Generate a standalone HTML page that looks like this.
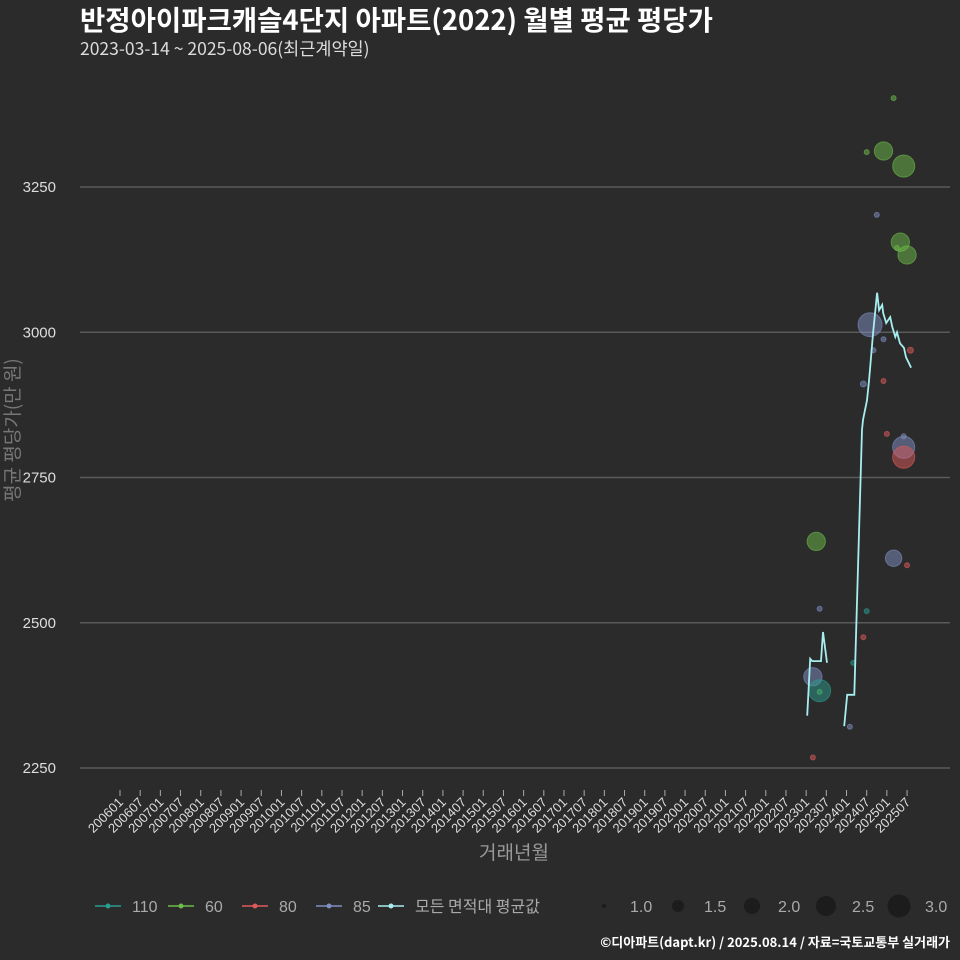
<!DOCTYPE html>
<html><head><meta charset="utf-8"><style>
body{margin:0;background:#2b2b2b;}
svg{display:block;font-family:"Liberation Sans","Noto Sans CJK KR",sans-serif;}
.kr{font-family:"Noto Sans CJK KR",sans-serif;}
</style></head><body>
<svg id="chart" width="960" height="960" viewBox="0 0 960 960">
<rect width="960" height="960" fill="#2b2b2b"/>
<text class="kr" x="80" y="30" fill="#fff" font-size="27.5" font-weight="bold">반정아이파크캐슬4단지 아파트(2022) 월별 평균 평당가</text>
<text class="kr" x="80" y="55" fill="#ddd" font-size="17.5">2023-03-14 ~ 2025-08-06(최근계약일)</text>
<g id="grid"></g>
<g id="yticks"></g>
<g id="xticks"></g>
<g id="bubbles"></g>
<g id="line"></g>
<text class="kr" x="514" y="859" fill="#999" font-size="19" text-anchor="middle">거래년월</text>
<text class="kr" style="font-family:'Noto Sans CJK KR',sans-serif" transform="translate(19,430) rotate(-90)" fill="#777" font-size="19" text-anchor="middle">평균 평당가(만 원)</text>
<g id="legend"></g>
<text class="kr" x="950" y="947" fill="#fff" font-size="13" font-weight="bold" text-anchor="end">©디아파트(dapt.kr) / 2025.08.14 / 자료=국토교통부 실거래가</text>
</svg>
<script>
const yTicks=[2250,2500,2750,3000,3250];
const xTickLabels=[];for(let y=2006;y<=2025;y++){xTickLabels.push(y+"01");xTickLabels.push(y+"07");}
const lineDates=["2023-01-10","2023-02-07","2023-02-25","2023-05-13","2023-06-01","2023-07-07",null,"2023-12-10","2024-01-07","2024-03-10","2024-05-19","2024-05-28","2024-07-04","2024-07-22","2024-08-28","2024-10-04","2024-10-22","2024-11-19","2024-11-28","2024-12-25","2025-02-01","2025-02-19","2025-03-16","2025-04-01","2025-04-28","2025-06-04","2025-06-22","2025-08-07"];
const lineValues=[2340,2438,2434,2434,2484,2431,null,2322,2376,2376,2832,2849,2883,2918,2999,3068,3038,3047,3033,3016,3026,3009,2992,3000,2981,2973,2957,2939];
const bubbleMonths=["2025-03","2024-07","2024-12","2025-06","2025-05","2025-07","2023-04","2025-04","2023-05",
"2024-10","2024-08","2024-12","2024-09","2024-06","2025-06","2025-06","2025-03","2023-05","2023-03","2024-02",
"2025-08","2024-12","2025-01","2025-06","2025-07","2024-06","2023-03",
"2023-05","2024-07","2024-03"];
const bubbleValues=[3403,3310,3312,3286,3155,3133,2640,3145,2381,
3202,3013,2988,2969,2911,2821,2802,2611,2524,2407,2321,
2969,2916,2825,2785,2599,2475,2268,
2383,2520,2431];
const bubbleSizes=[1,1,2.4,2.8,2.4,2.4,2.4,1,1,
1,3,1,1,1.1,1,2.8,2.2,1,2.4,1,
1.1,1,1,2.8,1,1,1,
2.8,1,1];
const bubbleAreas=["60","60","60","60","60","60","60","60","60",
"85","85","85","85","85","85","85","85","85","85","85",
"80","80","80","80","80","80","80",
"110","110","110"];
const legendAreas=["110","60","80","85"];
const legendSizes=[1.0,1.5,2.0,2.5,3.0];
const colors={"110":"#2a9d8f","60":"#6dbb4a","80":"#e05a5a","85":"#7f8fc4"};
const NS="http://www.w3.org/2000/svg";
function el(t,a,p){const e=document.createElementNS(NS,t);for(const k in a)e.setAttribute(k,a[k]);p.appendChild(e);return e;}
function y(v){return 187+(3250-v)*0.581;}
function xMonth(m){return 120+m*3.3635;}
function x(s){const p=s.split("-");const m=(+p[0]-2006)*12+(+p[1]-1)+(p[2]?(+p[2]-1)/30:0);return xMonth(m);}
function r(s){return 2.5+(s-1)*4.75;}
const grid=document.getElementById("grid"),yt=document.getElementById("yticks"),xt=document.getElementById("xticks");
yTicks.forEach(v=>{
 const l=el("line",{x1:80,x2:950,y1:y(v),y2:y(v),stroke:"#5a5a5a","stroke-width":1.5},grid);
 
 
 const t=el("text",{x:56,y:y(v)+5,fill:"#ddd","font-size":15,"text-anchor":"end"},yt);
 t.textContent=v;
 
 
});
xTickLabels.forEach((lab,i)=>{
 const xx=xMonth(i*6);
 const tk=el("line",{x1:xx,x2:xx,y1:790,y2:796,stroke:"#aaa"},xt);
 
 
 const t=el("text",{transform:`translate(${xx+4},${803}) rotate(-45)`,fill:"#ddd","font-size":13,"text-anchor":"end"},xt);
 t.textContent=lab;
 
 
});
const bg=document.getElementById("bubbles");
bubbleMonths.forEach((m,i)=>{
 const c=colors[bubbleAreas[i]];
 const b=el("circle",{cx:x(m),cy:y(bubbleValues[i]),r:r(bubbleSizes[i]),fill:c,"fill-opacity":0.5,stroke:c,"stroke-opacity":0.6},bg);
 
 
});
const lg=document.getElementById("line");
let d="",start=true;
lineDates.forEach((dt,i)=>{
 if(dt===null||lineValues[i]===null){start=true;return;}
 d+=(start?"M":"L")+x(dt).toFixed(1)+","+y(lineValues[i]).toFixed(1);start=false;
});
const pth=el("path",{d:d,fill:"none",stroke:"#a8eef0","stroke-width":1.8},lg);


const leg=document.getElementById("legend");
const lx=[95,168,242,316];
legendAreas.forEach((a,i)=>{
 const g=el("g",{},leg);
 
 
 el("line",{x1:lx[i],x2:lx[i]+26,y1:906,y2:906,stroke:colors[a],"stroke-width":1.5},g);
 el("circle",{cx:lx[i]+13,cy:906,r:2.5,fill:colors[a]},g);
 const t=el("text",{x:lx[i]+37,y:912,fill:"#aaa","font-size":16},g);t.textContent=a;
});
const ga=el("g",{},leg);


el("line",{x1:378,x2:404,y1:906,y2:906,stroke:"#a8eef0","stroke-width":1.5},ga);
el("circle",{cx:391,cy:906,r:2.5,fill:"#a8eef0"},ga);
const ta=el("text",{x:415,y:912,fill:"#aaa","font-size":16,"font-family":"Noto Sans CJK KR, sans-serif"},ga);ta.textContent="모든 면적대 평균값";
const sx=[604,678,752,826,899];
legendSizes.forEach((s,i)=>{
 const g=el("g",{},leg);
 
 
 el("circle",{cx:sx[i],cy:906,r:[2,6,8,10,11.5][i],fill:"#1c1c1c"},g);
 const t=el("text",{x:sx[i]+26,y:912,fill:"#aaa","font-size":16},g);t.textContent=s.toFixed(1);
});
</script>
</body></html>
